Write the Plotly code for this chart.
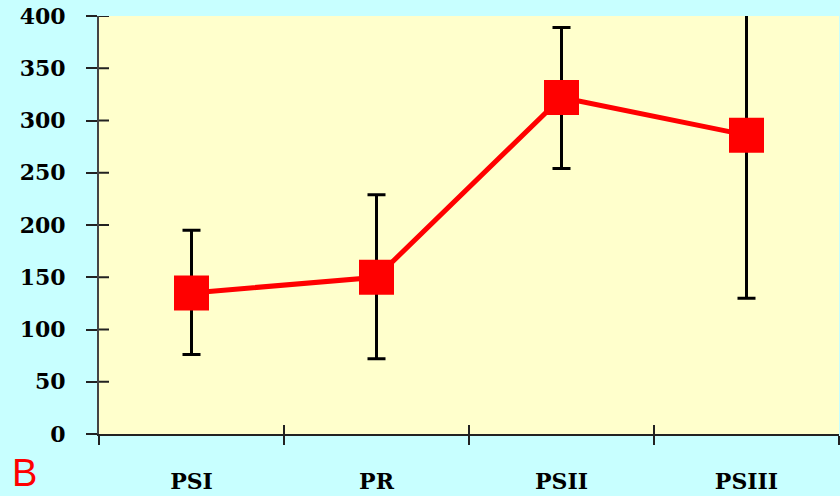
import plotly.graph_objects as go

# Group means with their error half-widths
categories = ["PSI", "PR", "PSII", "PSIII"]
means = [135, 150, 322, 286]
err_plus = [60, 79, 67, 156]
err_minus = [59, 78, 68, 156]
y_ticks = [0, 50, 100, 150, 200, 250, 300, 350, 400]

fig = go.Figure()
fig.add_trace(go.Scatter(
    x=categories,
    y=means,
    mode="lines+markers",
    line=dict(color="#ff0000", width=5),
    marker=dict(symbol="square", size=35, color="#ff0000"),
    error_y=dict(type="data", symmetric=False, array=err_plus, arrayminus=err_minus,
                 color="#000000", thickness=3, width=9),
    showlegend=False,
))

tick_font = dict(family="DejaVu Serif", size=22, color="#000000", weight="bold")

# Tick marks cross the axis lines: add the inner halves
inner_ticks = []
for v in y_ticks[1:]:
    inner_ticks.append(dict(type="line", xref="x domain", yref="y", x0=0, x1=10 / 740,
                            y0=v, y1=v, line=dict(color="#222222", width=2)))
for k in range(1, len(categories)):
    inner_ticks.append(dict(type="line", xref="x", yref="y domain", x0=k - 0.5, x1=k - 0.5,
                            y0=0, y1=9 / 418, line=dict(color="#222222", width=2)))

fig.update_layout(
    width=840, height=496,
    margin=dict(l=99, r=1, t=16, b=62),
    paper_bgcolor="#c8ffff",
    plot_bgcolor="#ffffcc",
    shapes=inner_ticks,
    xaxis=dict(
        type="category", range=[-0.5, 3.5],
        showline=True, linecolor="#222222", linewidth=2,
        ticks="outside", ticklen=9, tickwidth=2, tickcolor="#222222",
        tickson="boundaries", showgrid=False, zeroline=False,
        tickfont=tick_font, ticklabelstandoff=27,
    ),
    yaxis=dict(
        range=[0, 400], tickvals=y_ticks,
        showline=True, linecolor="#444444", linewidth=2,
        ticks="outside", ticklen=11, tickwidth=2, tickcolor="#222222",
        showgrid=False, zeroline=False,
        tickfont=tick_font, ticklabelstandoff=16,
    ),
    annotations=[dict(
        text="B", x=-89 / 740, y=-62 / 418, xref="paper", yref="paper",
        xanchor="left", yanchor="bottom", showarrow=False,
        font=dict(family="Liberation Sans", size=38, color="#ff0000"),
    )],
)

fig.write_html("out.html")
